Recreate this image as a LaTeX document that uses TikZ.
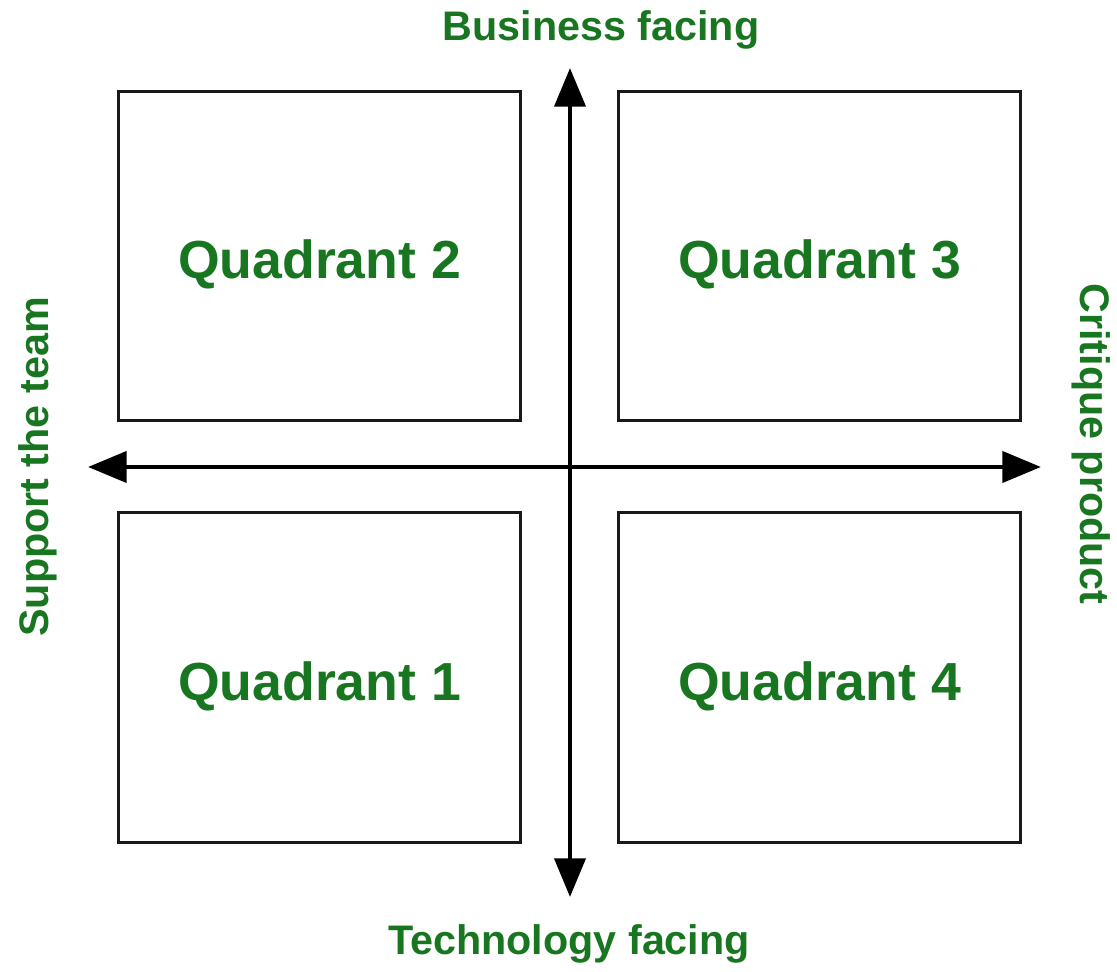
\documentclass[tikz,border=0pt]{standalone}
\usepackage{fontspec}
\setmainfont{Liberation Sans}
\usetikzlibrary{arrows.meta}
\definecolor{qgreen}{RGB}{25,118,32}

\begin{document}
\begin{tikzpicture}[x=0.02cm, y=-0.02cm,
    quadbox/.style={draw=black!90, line width=1.7pt, minimum width=8.05cm, minimum height=6.6cm,
      text height=26pt, text depth=0pt,
      text=qgreen, font=\fontsize{30.5}{36}\selectfont\bfseries},
    axislabel/.style={text=qgreen, font=\fontsize{23.5}{28}\selectfont\bfseries},
    axis/.style={line width=2.8pt, {Triangle[length=22pt, width=17.5pt]}-{Triangle[length=22pt, width=17.5pt]}}]
    \useasboundingbox (0,0) rectangle (1117,972);

    % Quadrants
    \node[quadbox] (q2) at (319.5,256) {Quadrant 2};
    \node[quadbox] (q3) at (819.5,256) {Quadrant 3};
    \node[quadbox] (q1) at (319.5,677.5) {Quadrant 1};
    \node[quadbox] (q4) at (819.5,677.5) {Quadrant 4};

    % Axes
    \coordinate (top) at (570,68);
    \coordinate (bottom) at (570,897);
    \coordinate (left) at (88,467);
    \coordinate (right) at (1041,467);
    \draw[axis] (bottom) -- (top);
    \draw[axis] (left) -- (right);

    % Axis labels
    \node[axislabel] (business) at (601,30) {Business facing};
    \node[axislabel] (technology) at (569,944) {Technology facing};
    \node[axislabel, rotate=90] (support) at (38,467) {Support the team};
    \node[axislabel, rotate=-90] (critique) at (1091,444) {Critique product};

  \end{tikzpicture}
\end{document}
